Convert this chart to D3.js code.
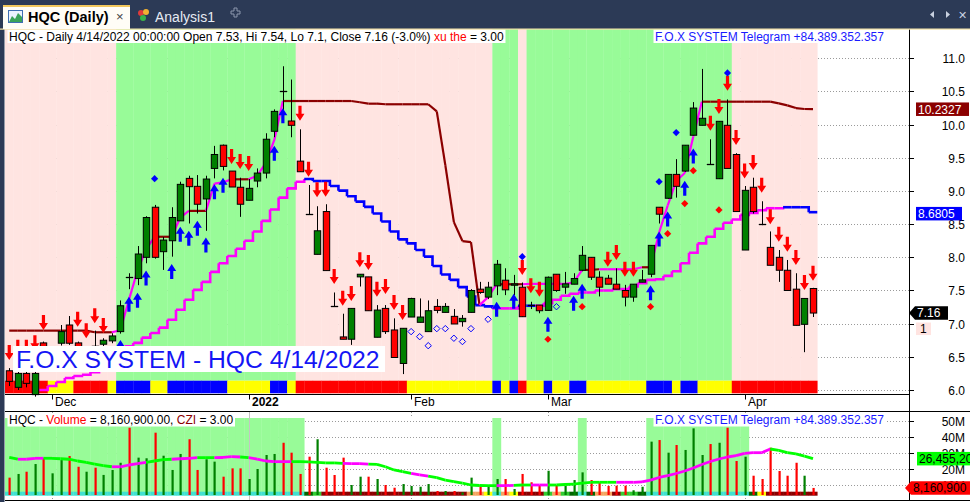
<!DOCTYPE html>
<html><head><meta charset="utf-8">
<script src="https://cdn.jsdelivr.net/npm/d3@7/dist/d3.min.js"></script>
<style>
html,body{margin:0;padding:0;background:#fff;overflow:hidden}
svg{display:block;font-family:"Liberation Sans",Arial,sans-serif}
</style></head><body>
<svg id="chart" width="970" height="502"></svg>
<script>
// ---------------- DATA ----------------
const dates = ["2021-11-24","2021-11-25","2021-11-26","2021-11-29","2021-11-30",
"2021-12-01","2021-12-02","2021-12-03","2021-12-06","2021-12-07","2021-12-08","2021-12-09","2021-12-10","2021-12-13","2021-12-14","2021-12-15","2021-12-16","2021-12-17","2021-12-20","2021-12-21","2021-12-22","2021-12-23","2021-12-24","2021-12-27","2021-12-28","2021-12-29","2021-12-30","2021-12-31",
"2022-01-04","2022-01-05","2022-01-06","2022-01-07","2022-01-10","2022-01-11","2022-01-12","2022-01-13","2022-01-14","2022-01-17","2022-01-18","2022-01-19","2022-01-20","2022-01-21","2022-01-24","2022-01-25","2022-01-26","2022-01-27","2022-01-28",
"2022-02-07","2022-02-08","2022-02-09","2022-02-10","2022-02-11","2022-02-14","2022-02-15","2022-02-16","2022-02-17","2022-02-18","2022-02-21","2022-02-22","2022-02-23","2022-02-24","2022-02-25","2022-02-28",
"2022-03-01","2022-03-02","2022-03-03","2022-03-04","2022-03-07","2022-03-08","2022-03-09","2022-03-10","2022-03-11","2022-03-14","2022-03-15","2022-03-16","2022-03-17","2022-03-18","2022-03-21","2022-03-22","2022-03-23","2022-03-24","2022-03-25","2022-03-28","2022-03-29","2022-03-30","2022-03-31",
"2022-04-01","2022-04-04","2022-04-05","2022-04-06","2022-04-07","2022-04-08","2022-04-12","2022-04-13","2022-04-14"];

const openP = [6.29,6.04,6.25,5.93,6.71, 6.45,6.705,6.98,6.71,6.55, 6.66,6.69,6.74,6.88,7.70, 7.68,8.00,8.755,8.085,8.25, 8.55,9.19,9.07,8.88,9.34, 9.69,9.30,9.056,8.86,9.15, 9.27,9.90,10.50,10.055,9.45, 8.65,8.045,8.69,7.26,6.80, 6.765,7.705,7.705,6.795,7.23, 6.905,6.40,7.10,7.02,6.88, 7.26,7.17,7.11,7.03,7.17, 7.52,7.40,7.57,7.655,7.58, 7.55,7.28,7.28,7.20,7.745, 7.55,7.595,7.805,8.00,7.70, 7.685,7.595,7.50,7.40,7.625, 7.745,8.755,8.89,9.25,9.30, 9.84,9.99,9.40,9.185,9.99, 9.55,8.11,9.056,8.50,8.15, 8.00,7.805,7.52,6.99,7.53];
const highP = [6.33,6.28,6.30,6.30,6.73, 6.64,6.98,7.115,6.73,6.65, 6.895,6.78,6.855,7.35,7.76, 8.17,8.62,8.79,8.31,8.755, 9.14,9.23,9.24,9.23,9.68, 9.70,9.30,9.20,9.18,9.34, 9.87,10.23,10.88,10.68,9.93, 9.09,8.77,8.80,7.47,7.15, 7.23,7.745,7.705,7.28,7.28, 7.08,6.93,7.39,7.38,7.35, 7.37,7.31,7.22,7.13,7.52, 7.63,7.63,7.96,7.835,7.735, 7.62,7.33,7.28,7.71,7.745, 7.78,7.76,8.17,8.00,7.79, 7.735,7.835,7.585,7.595,7.81, 8.18,8.755,9.25,9.48,9.69, 10.34,10.84,9.78,10.05,10.38, 9.57,9.075,9.20,8.845,8.39, 8.11,7.96,7.76,7.38,7.54];
const lowP = [6.06,6.00,6.04,5.90,6.48, 6.40,6.67,6.68,6.50,6.50, 6.50,6.60,6.705,6.85,7.52, 7.58,7.91,7.98,7.81,8.01, 8.55,8.51,8.66,8.40,9.19, 9.31,9.06,8.61,8.86,9.056, 9.19,9.81,10.12,9.81,9.29, 8.65,8.045,7.80,7.26,6.765, 6.68,7.56,7.195,6.795,6.845, 6.49,6.24,7.10,7.02,6.88, 7.157,7.17,6.995,6.955,7.17, 7.45,7.37,7.43,7.43,7.43, 7.10,7.22,7.157,7.20,7.48, 7.45,7.595,7.79,7.66,7.41, 7.595,7.52,7.26,7.33,7.625, 7.70,8.51,8.88,8.90,9.29, 9.84,9.99,9.40,9.18,9.34, 8.69,8.11,8.66,8.485,7.88, 7.63,7.50,6.975,6.57,7.10];
const closeP = [6.13,6.25,6.10,6.25,6.52, 6.60,6.88,6.705,6.55,6.62, 6.58,6.75,6.815,7.27,7.70, 8.05,8.60,8.00,8.26,8.60, 9.10,9.065,8.80,9.18,9.55, 9.37,9.06,8.80,9.04,9.27, 9.78,10.20,10.50,9.99,9.29, 8.65,8.40,7.80,7.26,6.765, 7.23,7.745,7.195,7.205,6.88, 6.49,6.93,7.38,7.10,7.195, 7.20,7.26,6.995,7.08,7.50, 7.47,7.55,7.895,7.51,7.60, 7.105,7.28,7.195,7.70,7.50, 7.60,7.68,8.03,7.70,7.55, 7.595,7.52,7.40,7.595,7.66, 8.18,8.65,9.25,9.07,9.69, 10.25,10.096,9.40,10.05,9.34, 8.69,9.01,8.69,8.50,7.88, 7.805,7.50,6.975,7.38,7.16];

// volume in millions of shares
const volumeM = [14.6,16.9,18.3,23.1,26.7, 17.3,25.6,28.1,21.4,18.3, 20.8,16.3,19.4,23.9,45.8, 27.1,26.7,42.7,28.3,19.4, 29.4,38.6,19.4,26.1,24.6, 15.2,20.4,20.4,13.75,20.0, 28.75,29.4,36.4,30.2,16.9, 27.7,38.6,20.8,16.25,27.1, 10.0,15.2,15.2,13.75,10.0, 8.3,10.6,9.4,8.9,10.6, 6.25,6.25,6.25,5.4,14.6, 9.4,9.6,13.75,13.75,7.5, 16.9,11.7,10.0,18.9,10.0, 9.4,13.1,17.9,13.1,11.7, 9.4,9.6,9.6,6.7,8.9, 37.1,38.1,30.2,35.0,31.9, 45.4,28.75,35.6,36.4,45.8, 25.0,27.7,15.8,13.75,33.3, 18.75,15.8,23.9,15.8,8.1609];
const volumeMA = [27.3,26.1,26.1,26.7,26.7, 26.7,26.4,26.1,25.0,24.2, 23.1,22.1,21.4,21.4,22.5, 23.3,24.2,25.0,25.8,26.1, 26.4,26.7,27.1,27.1,27.1, 27.2,27.7,27.5,27.1,26.2, 25.0,24.6,24.6,24.6,24.6, 24.4,24.2,23.8,23.8,23.5, 23.4,23.3,23.1,22.9,21.4, 19.4,18.3,17.3,16.3,15.6, 14.6,13.1,12.1,11.1,10.0, 9.7,9.6,9.6,9.6,9.8, 10.0,10.0,10.0,10.0,10.0, 10.3,10.6,11.2,11.7,11.7, 11.7,11.7,11.7,11.7,11.9, 13.1,14.7,15.8,17.2,18.75, 20.6,22.8,24.7,26.25,27.5, 28.4,29.7,30.2,30.2,32.5, 31.6,30.3,29.4,28.1,26.4552];

// trailing stop line (fast) and its colour state (1 = magenta, 0 = dark red)
const stopLine = [6.895,6.895,6.895,6.895,6.895,6.895,6.895,6.895,6.895,6.895, 6.87,6.87,6.87, 6.90,7.36,7.80,8.12,8.31, 8.31,8.31,8.60,8.70,8.70, 8.70,9.11,9.13,9.176,9.176, 9.176,9.23,9.42,9.77,10.356, 10.356,10.356,10.356,10.356,10.356,10.356,10.356,10.356, 10.337,10.316,10.316, 10.307,10.307,10.307,10.307,10.307,10.307, 10.20,9.39,8.53,8.245,8.23, 7.28,7.40,7.594,7.594,7.594, 7.594,7.60,7.60,7.60,7.60, 7.60,7.62,7.81,7.81,7.82, 7.82,7.82,7.82,7.82,7.85, 7.85,8.37,8.78,9.15,9.27, 9.82,10.346, 10.346,10.346,10.346,10.346,10.346,10.346,10.346,10.346, 10.32,10.29,10.25,10.236,10.2327];
const stopUpRuns = [[0,13],[1,5],[0,2],[1,2],[0,2],[1,3],[0,2],[1,4],[0,23],[1,2],[0,3],[1,7],[0,2],[1,5],[0,1],[1,6],[0,13]];

// slow staircase average (1 = magenta, 0 = blue)
const slowLine = [null,null,null,null, 6.00,6.06,6.12,6.18,6.21,6.23, 6.27,6.36,6.48,6.60,6.66, 6.71,6.79,6.86,6.94,7.06, 7.21,7.36,7.51,7.63,7.78, 7.91,8.02,8.13,8.25,8.39, 8.55,8.72,8.90,9.04,9.14, 9.18,9.15,9.15,9.075,9.005, 8.92,8.84,8.76,8.66,8.54, 8.39,8.27,8.21,8.11,8.01, 7.87,7.74,7.66,7.55,7.41, 7.28,7.26,7.23,7.23,7.23, 7.27,7.27,7.27,7.31,7.36, 7.42,7.45,7.47,7.47,7.50, 7.50,7.52,7.52,7.56,7.61, 7.66,7.67,7.72,7.79,7.91, 8.07,8.21,8.31,8.43,8.52, 8.57,8.64,8.67,8.71,8.74, 8.74,8.755,8.755,8.755,8.6805];
const slowUpRuns = [[1,35],[0,22],[1,3],[0,2],[1,29],[0,4]];

// background state per bar (1 = green, 0 = pink) and bottom ribbon
const bandRuns = [[0,13],[1,21],[0,23],[1,3],[0,1],[1,24],[0,10]];
const ribbonRuns = [["R",5],["Y",3],["R",4],["Y",1],["B",4],["Y",2],["B",7],["Y",5],["B",2],["Y",1],["R",13],["Y",10],["B",1],["Y",1],["B",1],["R",1],["Y",2],["B",1],["Y",2],["B",2],["Y",7],["B",3],["Y",1],["B",2],["Y",4],["R",10]];
const volBandRuns = [[1,35],[0,22],[1,1],[0,9],[1,1],[0,7],[1,12],[0,8]];
const volRibbonRuns = [["C",35],["G",1],["L",1],["D",17],["O",2],["Y",1],["C",1],["O",1],["Y",1],["D",3],["L",1],["O",1],["L",1],["G",1],["C",1],["G",1],["O",2],["D",1],["L",2],["G",1],["C",12],["G",1],["Y",1],["D",6]];
const volMAUpRuns = [[0,2],[1,3],[0,8],[1,4],[0,3],[1,3],[0,2],[1,3],[0,1],[1,5],[0,6],[1,3],[0,5],[1,2],[0,8],[1,2],[0,2],[1,2],[0,8],[1,18],[0,5]];

// signals: bar index and price level of arrow tip / marker
const buyBars = [13,14,15,16,19,20,21,22,23,24,25,31,32,57,59,63,66,67,75,76,77,79,80];
const buyTips = [6.755,7.407,7.467,7.80,7.90,8.46,8.40,8.55,8.30,9.10,9.20,9.68,10.246,7.33,7.45,7.105,7.42,7.60,7.58,8.39,8.69,9.155,9.64];
const sellBars = [0,1,2,3,4,8,9,10,11,26,27,28,34,35,36,37,38,39,40,41,42,43,44,45,46,60,61,62,70,71,72,73,82,83,84,85,86,87,88,89,90,91,92,93,94];
const sellTips = [6.453,6.53,6.53,6.60,6.905,6.955,6.78,7.006,6.86,9.407,9.33,9.30,10.06,9.215,8.905,8.914,7.598,7.27,7.342,7.85,7.81,7.407,7.448,7.206,7.056,7.734,7.458,7.407,7.859,7.96,7.708,7.708,9.909,10.16,10.51,9.693,9.19,9.317,8.974,8.50,8.236,8.085,7.885,7.508,7.648];
const blueDotBars = [17,60,76,78,84];
const blueDotAt = [9.185,8.01,9.14,9.88,10.78];
const redDotBars = [63,67,75,77,79,80,83];
const redDotAt = [6.765,7.256,7.256,8.357,8.81,9.306,8.714];
const ringBars = [47,48,49,50,51,52,53,54,56,64];
const ringAt = [6.88,6.804,6.668,6.925,6.925,6.78,6.73,6.925,7.066,7.256];

const priceTicks = [6.0,6.5,7.0,7.5,8.0,8.5,9.0,9.5,10.0,10.5,11.0];
const volTicks = [10,20,30,40,50];
const monthNames = ["Jan","Feb","Mar","Apr","May","Jun","Jul","Aug","Sep","Oct","Nov","Dec"];

// ---------------- SETUP ----------------
const expand = runs => runs.flatMap(([v,n]) => Array(n).fill(v));
const stopUp = expand(stopUpRuns), slowUp = expand(slowUpRuns);
const band = expand(bandRuns), ribbon = expand(ribbonRuns);
const volBand = expand(volBandRuns), volRibbon = expand(volRibbonRuns), volMAUp = expand(volMAUpRuns);
const N = dates.length;
const idx = d3.range(N);

const svg = d3.select("#chart");
const W = 970, H = 502;
const AX = 909;               // right axis x
const x = d3.scalePoint().domain(idx).range([9.25, 813]);
const step = x.step(), hw = step / 2;
const y = d3.scaleLinear().domain([6, 11]).range([390, 58.3]);
const vy = d3.scaleLinear().domain([0, 50]).range([501, 421]);

const C = {pink:"#FFE4E1", green:"#98FB98", navy:"#2C3A56", red:"#FF0000", dgreen:"#008000",
  magenta:"#FF00FF", blue:"#0000FF", darkred:"#8B0000"};
const ribbonColor = {R:"#FF0000", Y:"#FFFF00", B:"#0000FF"};
const volRibbonColor = {C:"#40E0D0", G:"#006400", L:"#32CD32", D:"#8B0000", O:"#F4A460", Y:"#FFFF00"};

svg.append("rect").attr("width", W).attr("height", H).attr("fill", "#fff");

// ---------------- PRICE PANEL ----------------
const pp = svg.append("g");
pp.selectAll(".grid").data(priceTicks).join("line")
  .attr("x1", 5).attr("x2", AX).attr("y1", d => Math.round(y(d)) + 0.5).attr("y2", d => Math.round(y(d)) + 0.5)
  .attr("stroke", "#9a9a9a").attr("stroke-dasharray", "1,2");
pp.selectAll(".band").data(idx).join("rect")
  .attr("x", i => x(i) - hw).attr("width", step + 0.3).attr("y", 29).attr("height", 380.7 - 29)
  .attr("fill", i => band[i] ? C.green : C.pink);
pp.selectAll(".rib").data(idx).join("rect")
  .attr("x", i => x(i) - hw).attr("width", step + 0.3).attr("y", 380.7).attr("height", 12.6)
  .attr("fill", i => ribbonColor[ribbon[i]]);
pp.append("line").attr("x1", 5).attr("x2", AX).attr("y1", 394.5).attr("y2", 394.5).attr("stroke", "#000");

// slow staircase line
idx.filter(i => slowLine[i] != null).forEach(i => {
  let d = `M${x(i) - hw},${y(slowLine[i])}H${x(i) + hw}`;
  if (i + 1 < N && slowLine[i + 1] != null) d += `V${y(slowLine[i + 1])}`;
  pp.append("path").attr("d", d).attr("fill", "none")
    .attr("stroke", slowUp[i] ? C.magenta : C.blue).attr("stroke-width", 2.6);
});
// fast stop line
const segLine = d3.line().x(i => x(i)).y(i => y(stopLine[i]));
idx.slice(1).forEach(i => {
  pp.append("path").attr("d", segLine([i - 1, i])).attr("fill", "none")
    .attr("stroke", stopUp[i] ? C.magenta : C.darkred).attr("stroke-width", 2.2);
});

// candles
const bw = 6.4;
const cg = pp.append("g");
idx.forEach(i => {
  const cx = Math.round(x(i)) + 0.5;
  cg.append("line").attr("x1", cx).attr("x2", cx).attr("y1", y(highP[i])).attr("y2", y(lowP[i])).attr("stroke", "#000");
  const o = y(openP[i]), c = y(closeP[i]);
  if (Math.abs(o - c) < 1) {
    cg.append("line").attr("x1", cx - bw / 2 - 0.5).attr("x2", cx + bw / 2 + 0.5).attr("y1", Math.round(o) + 0.5).attr("y2", Math.round(o) + 0.5)
      .attr("stroke", "#000").attr("stroke-width", 1.3);
  } else {
    cg.append("rect").attr("x", cx - bw / 2).attr("width", bw).attr("y", Math.min(o, c)).attr("height", Math.abs(o - c))
      .attr("fill", closeP[i] > openP[i] ? C.dgreen : C.red).attr("stroke", "#000").attr("stroke-width", 1);
  }
});

// arrows and markers
const upPath = (cx, t) => `M${cx},${t}L${cx + 4.5},${t + 7}L${cx + 1.6},${t + 7}L${cx + 1.6},${t + 15}L${cx - 1.6},${t + 15}L${cx - 1.6},${t + 7}L${cx - 4.5},${t + 7}Z`;
const dnPath = (cx, t) => `M${cx},${t}L${cx + 4.5},${t - 7}L${cx + 1.6},${t - 7}L${cx + 1.6},${t - 15}L${cx - 1.6},${t - 15}L${cx - 1.6},${t - 7}L${cx - 4.5},${t - 7}Z`;
const dia = (cx, cy, r) => `M${cx},${cy - r}L${cx + r},${cy}L${cx},${cy + r}L${cx - r},${cy}Z`;
buyBars.forEach((b, k) => pp.append("path").attr("d", upPath(x(b), y(buyTips[k]))).attr("fill", C.blue));
sellBars.forEach((b, k) => pp.append("path").attr("d", dnPath(x(b), y(sellTips[k]))).attr("fill", C.red));
blueDotBars.forEach((b, k) => pp.append("path").attr("d", dia(x(b), y(blueDotAt[k]), 3.6)).attr("fill", C.blue));
redDotBars.forEach((b, k) => pp.append("path").attr("d", dia(x(b), y(redDotAt[k]), 3.6)).attr("fill", C.red));
ringBars.forEach((b, k) => pp.append("path").attr("d", dia(x(b), y(ringAt[k]), 3.2)).attr("fill", "none").attr("stroke", C.blue).attr("stroke-width", 1));

// big label
pp.append("rect").attr("x", 13).attr("y", 346).attr("width", 372).attr("height", 26).attr("fill", "#fff");
pp.append("text").attr("x", 16).attr("y", 368.3).attr("font-size", 24.7).attr("fill", "#1515f5")
  .text("F.O.X SYSTEM - HQC 4/14/2022");

// title lines with white background
function titleLine(g, xx, yy, parts) {
  const bg = g.append("rect").attr("fill", "#fff");
  const t = g.append("text").attr("x", xx).attr("y", yy).attr("font-size", 12);
  parts.forEach(([s, col]) => t.append("tspan").attr("fill", col).text(s));
  const bb = t.node().getBBox();
  bg.attr("x", bb.x - 1.5).attr("y", yy - 11).attr("width", bb.width + 3).attr("height", 13.5);
}
const last = N - 1;
const pct = ((closeP[last] / closeP[last - 1] - 1) * 100);
titleLine(svg, 9, 40.5, [[`HQC - Daily 4/14/2022 00:00:00 Open ${openP[last]}, Hi ${highP[last]}, Lo ${lowP[last]}, Close ${closeP[last]} (-3.0%) `, "#000"], ["xu the", "#FF0000"], [" = 3.00", "#000"]]);
titleLine(svg, 655, 40.5, [["F.O.X SYSTEM Telegram +84.389.352.357", "#1a1aff"]]);

// right price axis
svg.append("line").attr("x1", AX + 0.5).attr("x2", AX + 0.5).attr("y1", 29).attr("y2", 501).attr("stroke", "#000");
priceTicks.forEach(t => {
  const yy = Math.round(y(t)) + 0.5;
  svg.append("line").attr("x1", AX).attr("x2", AX + 5).attr("y1", yy).attr("y2", yy).attr("stroke", "#000");
  svg.append("text").attr("x", 965).attr("y", yy + 4.3).attr("text-anchor", "end").attr("font-size", 12).attr("fill", "#000").text(t.toFixed(1));
});
function valueBox(x0, x1, cy, fill, txt, tcol, pointer) {
  const h = 13.5;
  if (pointer) {
    svg.append("path").attr("d", `M${x0},${cy}L${x0 + 6},${cy - h / 2}L${x1},${cy - h / 2}L${x1},${cy + h / 2}L${x0 + 6},${cy + h / 2}Z`).attr("fill", fill);
  } else {
    svg.append("rect").attr("x", x0).attr("y", cy - h / 2).attr("width", x1 - x0).attr("height", h).attr("fill", fill);
  }
  svg.append("text").attr("x", pointer ? x0 + 8 : x0 + 2).attr("y", cy + 4.3).attr("font-size", 12).attr("fill", tcol).text(txt);
}
valueBox(916, 969, y(stopLine[last]), C.darkred, stopLine[last].toFixed(4), "#fff", false);
valueBox(916, 962, y(slowLine[last]) + 1.5, C.blue, slowLine[last].toFixed(4), "#fff", false);
valueBox(909, 948, y(closeP[last]), "#000", closeP[last].toFixed(2), "#fff", true);
svg.append("rect").attr("x", 916).attr("y", y(closeP[last]) + 9.5).attr("width", 15).attr("height", 12.5).attr("fill", C.pink);
svg.append("text").attr("x", 920).attr("y", y(closeP[last]) + 20).attr("font-size", 12).attr("fill", "#000").text("1");

// date axis
const monthStarts = idx.filter(i => i === 0 ? false : dates[i].slice(5, 7) !== dates[i - 1].slice(5, 7));
monthStarts.forEach(i => {
  const xx = Math.round(x(i)) + 0.5;
  const m = +dates[i].slice(5, 7);
  const isYear = m === 1;
  svg.append("line").attr("x1", xx).attr("x2", xx).attr("y1", 394).attr("y2", 399.5).attr("stroke", "#000");
  svg.append("text").attr("x", xx + 2.5).attr("y", 405.5).attr("font-size", 12).attr("fill", "#000")
    .attr("font-weight", isYear ? "bold" : "normal").text(isYear ? dates[i].slice(0, 4) : monthNames[m - 1]);
});

// ---------------- VOLUME PANEL ----------------
const vp = svg.append("g");
vp.append("line").attr("x1", 5).attr("x2", W).attr("y1", 411.5).attr("y2", 411.5).attr("stroke", "#000");
vp.selectAll(".vg").data(volTicks).join("line")
  .attr("x1", 5).attr("x2", AX).attr("y1", d => Math.round(vy(d)) + 0.5).attr("y2", d => Math.round(vy(d)) + 0.5)
  .attr("stroke", "#9a9a9a").attr("stroke-dasharray", "1,2");
vp.selectAll(".vband").data(idx.filter(i => volBand[i])).join("rect")
  .attr("x", i => x(i) - hw).attr("width", step + 0.3).attr("y", 418).attr("height", 492 - 418).attr("fill", C.green);
monthStarts.forEach(i => {
  const xx = Math.round(x(i)) + 0.5;
  if (+dates[i].slice(5, 7) === 1) {
    vp.append("line").attr("x1", xx).attr("x2", xx).attr("y1", 412).attr("y2", 500).attr("stroke", "#c4c4c4");
  } else {
    vp.append("line").attr("x1", xx).attr("x2", xx).attr("y1", 412).attr("y2", 418).attr("stroke", "#999").attr("stroke-dasharray", "1,2");
    vp.append("line").attr("x1", xx).attr("x2", xx).attr("y1", 495).attr("y2", 500).attr("stroke", "#999").attr("stroke-dasharray", "1,2");
  }
});
vp.selectAll(".vrib").data(idx).join("rect")
  .attr("x", i => x(i) - hw).attr("width", step + 0.3).attr("y", 491.7).attr("height", 4)
  .attr("fill", i => volRibbonColor[volRibbon[i]]);
vp.selectAll(".vbar").data(idx).join("rect")
  .attr("x", i => Math.round(x(i)) - 0.5).attr("width", 2.2)
  .attr("y", i => vy(volumeM[i])).attr("height", i => 495 - vy(volumeM[i]))
  .attr("fill", i => closeP[i] > openP[i] ? C.dgreen : C.red);
const maLine = d3.line().x(i => x(i)).y(i => vy(volumeMA[i]));
idx.slice(1).forEach(i => {
  vp.append("path").attr("d", maLine([i - 1, i])).attr("fill", "none")
    .attr("stroke", volMAUp[i] ? C.magenta : "#00FF00").attr("stroke-width", 2.8);
});
vp.append("line").attr("x1", 5).attr("x2", W).attr("y1", 500.5).attr("y2", 500.5).attr("stroke", "#000");

titleLine(svg, 9, 424, [["HQC - ", "#000"], ["Volume", "#FF0000"], [` = ${d3.format(",.2f")(volumeM[last] * 1e6)}, `, "#000"], ["CZI", "#8B0000"], [" = 3.00", "#000"]]);
titleLine(svg, 655, 424, [["F.O.X SYSTEM Telegram +84.389.352.357", "#1a1aff"]]);

volTicks.forEach(t => {
  const yy = Math.round(vy(t)) + 0.5;
  svg.append("line").attr("x1", AX).attr("x2", AX + 5).attr("y1", yy).attr("y2", yy).attr("stroke", "#000");
  svg.append("text").attr("x", 965).attr("y", yy + 4.3).attr("text-anchor", "end").attr("font-size", 12).attr("fill", "#000").text(t + "M");
});
valueBox(917, 972, vy(volumeMA[last]), "#00FF00", d3.format(",")(Math.round(volumeMA[last] * 1e6)), "#000", false);
valueBox(905, 972, vy(volumeM[last]), "#FF0000", d3.format(",")(Math.round(volumeM[last] * 1e6)), "#000", true);

// ---------------- FRAME / TAB BAR ----------------
svg.append("rect").attr("x", 0).attr("y", 0).attr("width", 4.5).attr("height", H).attr("fill", C.navy);
svg.append("rect").attr("x", 0).attr("y", 0).attr("width", W).attr("height", 29).attr("fill", C.navy);
svg.append("rect").attr("x", 0).attr("y", 28.5).attr("width", W).attr("height", 1.2).attr("fill", "#f3e3a8");
const tab = svg.append("g");
tab.append("rect").attr("x", 3).attr("y", 5).attr("width", 127).attr("height", 24).attr("fill", "#fffdf6");
tab.append("rect").attr("x", 3).attr("y", 5).attr("width", 127).attr("height", 2).attr("fill", "#f2c75c");
tab.append("rect").attr("x", 8.5).attr("y", 10.5).attr("width", 14).attr("height", 12).attr("fill", "#eaf2ff").attr("stroke", "#3f6fb3");
tab.append("path").attr("d", "M9,22L12,16L15,19L18,13L22,17L22,22Z").attr("fill", "#3aa35a");
tab.append("text").attr("x", 28).attr("y", 21.5).attr("font-size", 14.5).attr("font-weight", "bold").attr("fill", "#000").text("HQC (Daily)");
tab.append("text").attr("x", 116).attr("y", 21).attr("font-size", 13).attr("fill", "#444").text("×");
tab.append("circle").attr("cx", 141).attr("cy", 13).attr("r", 3).attr("fill", "#e03a3a");
tab.append("circle").attr("cx", 146).attr("cy", 12).attr("r", 3).attr("fill", "#f2b132");
tab.append("circle").attr("cx", 143).attr("cy", 18).attr("r", 3).attr("fill", "#3ab24a");
tab.append("text").attr("x", 155).attr("y", 21.5).attr("font-size", 14).attr("fill", "#e6ebf3").text("Analysis1");
tab.append("path").attr("d", "M231,11h3v-3h3v3h3v3h-3v3h-3v-3h-3Z").attr("fill", "none").attr("stroke", "#8c97ad");
tab.append("path").attr("d", "M934,11L930,14.5L934,18Z").attr("fill", "#c9d1e0");
tab.append("path").attr("d", "M946,11L950,14.5L946,18Z").attr("fill", "#c9d1e0");
tab.append("text").attr("x", 958).attr("y", 19).attr("font-size", 11).attr("fill", "#c9d1e0").text("✕");
</script></body></html>
